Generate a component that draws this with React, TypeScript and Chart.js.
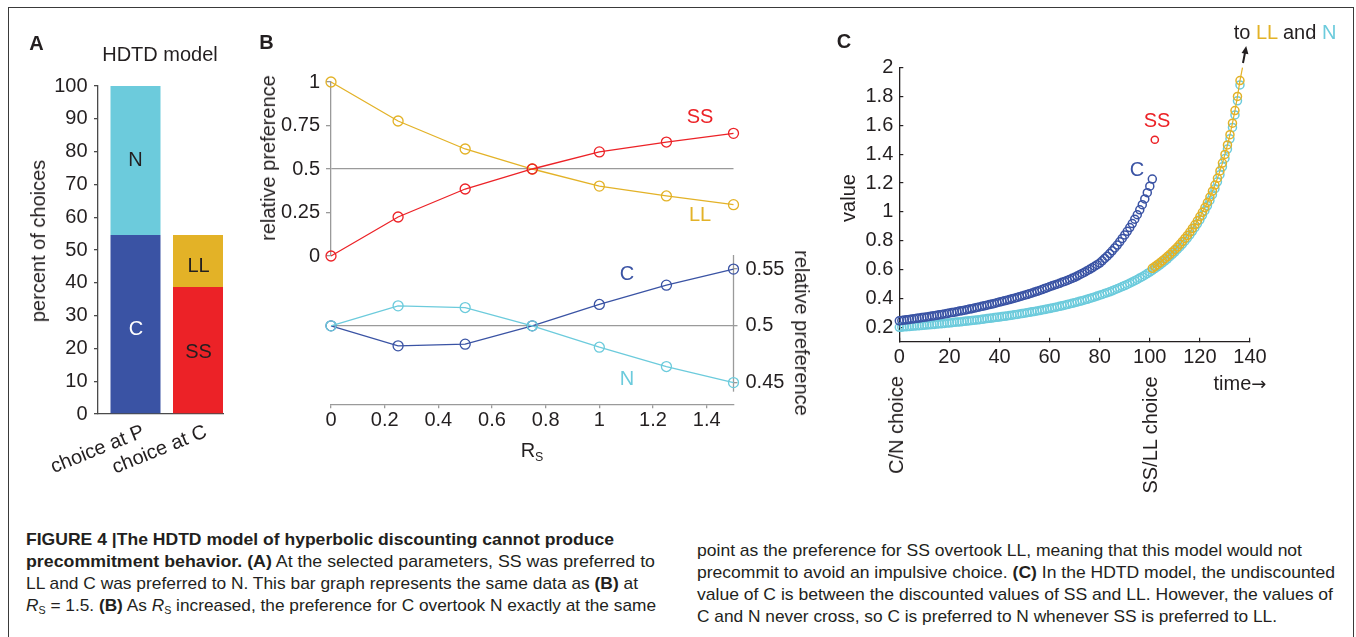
import React, { useEffect, useLayoutEffect, useRef } from "react";
import { Chart, registerables } from "chart.js";

Chart.register(...registerables);

const FONT = "'Liberation Sans', Arial, Helvetica, sans-serif";
const INK = "#231f20";
const GRAY = "#9a9a9a";
const AXA = "#4a4a4a";
const BLUE = "#3a53a4";
const CYAN = "#6ccbdc";
const GOLD = "#e3b227";
const RED = "#ec2227";

Chart.defaults.font.family = FONT;
Chart.defaults.color = INK;

// ---------- Panel A data ----------
const barCategories = ["choice at P", "choice at C"];
const barPositions = [0.6, 1.6];
const shareC = [54.6, 0];
const shareN = [45.4, 0];
const shareSS = [0, 38.7];
const shareLL = [0, 15.9];
const percentTicks = [0, 10, 20, 30, 40, 50, 60, 70, 80, 90, 100];

// ---------- Panel B data ----------
const rsValues = [0, 0.25, 0.5, 0.75, 1, 1.25, 1.5];
const prefSS = [0, 0.224, 0.385, 0.5, 0.598, 0.655, 0.705];
const prefLL = [1, 0.776, 0.615, 0.5, 0.402, 0.345, 0.295];
const prefC = [0.5, 0.4824, 0.4839, 0.5, 0.5188, 0.5358, 0.5499];
const prefN = [0.5, 0.5176, 0.5161, 0.5, 0.4812, 0.4642, 0.4501];
const rsTicks = [0, 0.2, 0.4, 0.6, 0.8, 1, 1.2, 1.4];
const rsTickLabels = ["0", "0.2", "0.4", "0.6", "0.8", "1", "1.2", "1.4"];
const topPrefTicks = [0, 0.25, 0.5, 0.75, 1];
const topPrefLabels = ["0", "0.25", "0.5", "0.75", "1"];
const lowPrefTicks = [0.45, 0.5, 0.55];
const lowPrefLabels = ["0.45", "0.5", "0.55"];

// ---------- Panel C data ----------
const timeStartC = 0;
const valueC = [
  0.245, 0.247, 0.25, 0.252, 0.254, 0.257, 0.259, 0.262, 0.264, 0.267,
  0.27, 0.272, 0.275, 0.278, 0.28, 0.283, 0.286, 0.289, 0.292, 0.295,
  0.299, 0.302, 0.305, 0.308, 0.312, 0.315, 0.318, 0.322, 0.326, 0.329,
  0.333, 0.337, 0.341, 0.345, 0.349, 0.353, 0.357, 0.361, 0.365, 0.37,
  0.375, 0.379, 0.383, 0.388, 0.392, 0.397, 0.402, 0.407, 0.412, 0.417,
  0.422, 0.427, 0.433, 0.438, 0.444, 0.449, 0.455, 0.461, 0.468, 0.474,
  0.481, 0.487, 0.493, 0.499, 0.505, 0.512, 0.518, 0.525, 0.532, 0.539,
  0.546, 0.555, 0.564, 0.573, 0.582, 0.592, 0.602, 0.612, 0.623, 0.634,
  0.645, 0.661, 0.677, 0.693, 0.711, 0.73, 0.75, 0.77, 0.792, 0.816,
  0.84, 0.865, 0.891, 0.919, 0.949, 0.98, 1.014, 1.05, 1.09, 1.133,
  1.178, 1.227,
];
const timeStartN = 0;
const valueN = [
  0.2, 0.201, 0.203, 0.204, 0.205, 0.207, 0.208, 0.21, 0.211, 0.213,
  0.214, 0.216, 0.217, 0.219, 0.22, 0.222, 0.224, 0.225, 0.227, 0.229,
  0.23, 0.232, 0.234, 0.236, 0.237, 0.239, 0.241, 0.243, 0.245, 0.247,
  0.249, 0.251, 0.253, 0.255, 0.258, 0.26, 0.262, 0.264, 0.267, 0.269,
  0.271, 0.274, 0.276, 0.279, 0.281, 0.284, 0.287, 0.289, 0.292, 0.295,
  0.298, 0.301, 0.304, 0.307, 0.31, 0.313, 0.316, 0.32, 0.323, 0.327,
  0.33, 0.334, 0.337, 0.341, 0.345, 0.349, 0.353, 0.357, 0.362, 0.366,
  0.37, 0.375, 0.38, 0.384, 0.389, 0.394, 0.4, 0.405, 0.41, 0.416,
  0.422, 0.428, 0.434, 0.44, 0.446, 0.453, 0.46, 0.467, 0.474, 0.482,
  0.489, 0.497, 0.506, 0.514, 0.523, 0.532, 0.542, 0.551, 0.561, 0.572,
  0.583, 0.595, 0.606, 0.619, 0.631, 0.645, 0.659, 0.673, 0.689, 0.705,
  0.721, 0.739, 0.757, 0.776, 0.797, 0.818, 0.841, 0.865, 0.89, 0.917,
  0.945, 0.976, 1.008, 1.042, 1.079, 1.119, 1.161, 1.208, 1.258, 1.312,
  1.37, 1.435, 1.506, 1.585, 1.672, 1.77, 1.88,
];
const timeStartLL = 101;
const valueLL = [
  0.609, 0.621, 0.634, 0.647, 0.661, 0.675, 0.69, 0.705, 0.722, 0.739,
  0.756, 0.775, 0.795, 0.816, 0.837, 0.86, 0.885, 0.91, 0.938, 0.967,
  0.997, 1.03, 1.065, 1.103, 1.143, 1.186, 1.233, 1.284, 1.338, 1.398,
  1.464, 1.535, 1.615, 1.702, 1.8, 1.91, 2.0,
];
const timeSS = [102];
const valueSS = [1.5];
const timeTicks = [0, 20, 40, 60, 80, 100, 120, 140];
const valueTicks = [0.2, 0.4, 0.6, 0.8, 1, 1.2, 1.4, 1.6, 1.8, 2];
const valueTickLabels = ["0.2", "0.4", "0.6", "0.8", "1", "1.2", "1.4", "1.6", "1.8", "2"];

const toPoints = (start: number, vals: number[]) => vals.map((v, i) => ({ x: start + i, y: v }));

const setTicks = (vals: number[]) => (s: any) => {
  s.ticks = vals.map((v) => ({ value: v }));
};
const fixW = (w: number) => (s: any) => {
  s.width = w;
  s.paddingTop = 0;
  s.paddingBottom = 0;
  s.paddingLeft = 0;
  s.paddingRight = 0;
};
const fixH = (h: number) => (s: any) => {
  s.height = h;
  s.paddingTop = 0;
  s.paddingBottom = 0;
  s.paddingLeft = 0;
  s.paddingRight = 0;
};

function ChartBox({ left, top, width, height, make }: any) {
  const ref = useRef<HTMLCanvasElement>(null);
  useEffect(() => {
    const chart = new Chart(ref.current as HTMLCanvasElement, make());
    return () => chart.destroy();
  }, []);
  return (
    <canvas
      ref={ref}
      width={width}
      height={height}
      style={{ position: "absolute", left, top, width, height }}
    />
  );
}

const baseOpts = {
  responsive: false,
  animation: false as const,
  devicePixelRatio: 1,
  events: [] as any[],
  plugins: { legend: { display: false }, tooltip: { enabled: false } },
};

// ---------- Panel A chart ----------
const barDs = (label: string, x: number, y: number, color: string) => ({
  label,
  data: [{ x, y }],
  backgroundColor: color,
  borderWidth: 0,
  grouped: false,
  stack: "all",
  barPercentage: 0.8,
  categoryPercentage: 1,
});

const makeA = () => ({
  type: "bar",
  data: {
    datasets: [
      barDs("C", barPositions[0], shareC[0], BLUE),
      barDs("N", barPositions[0], shareN[0], CYAN),
      barDs("SS", barPositions[1], shareSS[1], RED),
      barDs("LL", barPositions[1], shareLL[1], GOLD),
    ],
  },
  options: {
    ...baseOpts,
    layout: { padding: { left: 0, top: 86, right: 27, bottom: 0 } },
    scales: {
      x: {
        type: "linear",
        stacked: true,
        offset: false,
        min: 0,
        max: 2,
        afterBuildTicks: setTicks(barPositions),
        afterFit: fixH(66),
        grid: { display: false, drawTicks: false, offset: false },
        border: { display: true, color: AXA, width: 1.3 },
        ticks: {
          autoSkip: false,
          minRotation: 22,
          maxRotation: 22,
          padding: 6,
          labelOffset: 8,
          font: { size: 20 },
          color: INK,
          callback: (_v: any, i: number) => barCategories[i],
        },
      },
      y: {
        stacked: true,
        min: 0,
        max: 100,
        afterBuildTicks: setTicks(percentTicks),
        afterFit: fixW(98),
        grid: { drawOnChartArea: false, tickLength: 4, color: AXA, lineWidth: 1.3 },
        border: { color: AXA, width: 1.3 },
        ticks: { autoSkip: false, padding: 6.5, font: { size: 20 }, color: INK },
      },
    },
  },
});

// ---------- Panel B top chart ----------
const lineDs = (data: any[], color: string) => ({
  data,
  borderColor: color,
  borderWidth: 1.3,
  pointRadius: 5,
  pointBorderWidth: 1.3,
  pointBorderColor: color,
  pointBackgroundColor: "rgba(0,0,0,0)",
  fill: false,
  tension: 0,
  clip: false,
});

const makeBTop = () => ({
  type: "line",
  data: {
    datasets: [
      lineDs(rsValues.map((x, i) => ({ x, y: prefSS[i] })), RED),
      lineDs(rsValues.map((x, i) => ({ x, y: prefLL[i] })), GOLD),
    ],
  },
  options: {
    ...baseOpts,
    layout: { padding: { left: 0, top: 82, right: 26.5, bottom: 14 } },
    scales: {
      x: { type: "linear", min: 0, max: 1.5, display: false },
      y: {
        min: 0,
        max: 1,
        afterBuildTicks: setTicks(topPrefTicks),
        afterFit: fixW(91),
        grid: {
          color: (c: any) => (c.tick && c.tick.value === 0.5 ? GRAY : "rgba(0,0,0,0)"),
          tickColor: GRAY,
          tickLength: 5,
          lineWidth: 1.3,
        },
        border: { color: GRAY, width: 1.3 },
        ticks: {
          autoSkip: false,
          padding: 6,
          font: { size: 20 },
          color: INK,
          callback: (_v: any, i: number) => topPrefLabels[i],
        },
      },
    },
  },
});

// ---------- Panel B bottom chart ----------
const RIGHT_AXIS_TOP = 0.5623;
const RIGHT_AXIS_BOTTOM = 0.4421;
const rightAxisLine = {
  id: "rightAxisLine",
  beforeDatasetsDraw(chart: any) {
    const y = chart.scales.y;
    const ctx = chart.ctx;
    const x = chart.chartArea.right;
    ctx.save();
    ctx.strokeStyle = GRAY;
    ctx.lineWidth = 1.3;
    ctx.beginPath();
    ctx.moveTo(x, y.getPixelForValue(RIGHT_AXIS_TOP));
    ctx.lineTo(x, y.getPixelForValue(RIGHT_AXIS_BOTTOM));
    ctx.stroke();
    ctx.restore();
  },
};

const makeBBottom = () => ({
  type: "line",
  data: {
    datasets: [
      lineDs(rsValues.map((x, i) => ({ x, y: prefN[i] })), CYAN),
      lineDs(rsValues.map((x, i) => ({ x, y: prefC[i] })), BLUE),
    ],
  },
  plugins: [rightAxisLine],
  options: {
    ...baseOpts,
    layout: { padding: { left: 91, top: 15, right: 0, bottom: 0 } },
    scales: {
      x: {
        type: "linear",
        min: 0,
        max: 1.5,
        afterBuildTicks: setTicks(rsTicks),
        afterFit: fixH(75.7),
        grid: { drawOnChartArea: false, tickLength: 4, color: GRAY, lineWidth: 1.3 },
        border: { color: GRAY, width: 1.3 },
        ticks: {
          autoSkip: false,
          maxRotation: 0,
          padding: 0.5,
          font: { size: 20 },
          color: INK,
          callback: (_v: any, i: number) => rsTickLabels[i],
        },
      },
      y: {
        position: "right",
        min: 0.431,
        max: RIGHT_AXIS_TOP,
        afterBuildTicks: setTicks(lowPrefTicks),
        afterFit: fixW(106.5),
        grid: {
          color: (c: any) => (c.tick && c.tick.value === 0.5 ? GRAY : "rgba(0,0,0,0)"),
          tickColor: GRAY,
          tickLength: 4,
          lineWidth: 1.3,
        },
        border: { display: false },
        ticks: {
          autoSkip: false,
          padding: 8,
          font: { size: 20 },
          color: INK,
          callback: (_v: any, i: number) => lowPrefLabels[i],
        },
      },
    },
  },
});

// ---------- Panel C chart ----------
const dotDs = (data: any[], color: string, showLine: boolean, radius: any = 4.2) => ({
  data,
  showLine,
  borderColor: color,
  borderWidth: 1.2,
  pointRadius: radius,
  pointBorderWidth: 1.5,
  pointBorderColor: color,
  pointBackgroundColor: "rgba(0,0,0,0)",
  fill: false,
  tension: 0,
  clip: false,
});

const makeC = () => {
  const llPts = toPoints(timeStartLL, valueLL);
  return {
    type: "line",
    data: {
      datasets: [
        dotDs(timeSS.map((t, i) => ({ x: t, y: valueSS[i] })), RED, false, 3.6),
        dotDs(llPts, GOLD, true, (c: any) => (c.dataIndex === llPts.length - 1 ? 0 : 4)),
        dotDs(toPoints(timeStartC, valueC), BLUE, false, 4),
        dotDs(toPoints(timeStartN, valueN), CYAN, false, 4),
      ],
    },
    options: {
      ...baseOpts,
      layout: { padding: { left: 0, top: 27.6, right: 106, bottom: 0 } },
      scales: {
        x: {
          type: "linear",
          min: 0,
          max: 140,
          afterBuildTicks: setTicks(timeTicks),
          afterFit: fixH(38.3),
          grid: { drawOnChartArea: false, tickLength: -4, color: INK, lineWidth: 1.2 },
          border: { color: INK, width: 1.3 },
          ticks: { autoSkip: false, maxRotation: 0, padding: 8, font: { size: 20 }, color: INK },
        },
        y: {
          min: 0.1,
          max: 2,
          afterBuildTicks: setTicks(valueTicks),
          afterFit: fixW(79.3),
          grid: { drawOnChartArea: false, tickLength: -4, color: INK, lineWidth: 1.2 },
          border: { color: INK, width: 1.3 },
          ticks: {
            autoSkip: false,
            padding: 10,
            font: { size: 20 },
            color: INK,
            callback: (_v: any, i: number) => valueTickLabels[i],
          },
        },
      },
    },
  };
};

// ---------- overlay text ----------
function T({ x, y, children, size = 20, color = INK, weight = 400, rotate = 0, style = {} }: any) {
  return (
    <div
      style={{
        position: "absolute",
        left: x,
        top: y,
        transform: `translate(-50%, -50%) rotate(${rotate}deg)`,
        whiteSpace: "nowrap",
        fontFamily: FONT,
        fontSize: size,
        fontWeight: weight,
        color,
        lineHeight: 1,
        ...style,
      }}
    >
      {children}
    </div>
  );
}

function CapLine({ x, y, w, children }: any) {
  const ref = useRef<HTMLDivElement>(null);
  useLayoutEffect(() => {
    const el = ref.current as HTMLDivElement;
    const fit = () => {
      el.style.transform = "translateY(-50%)";
      const nat = el.getBoundingClientRect().width;
      el.style.transform = `translateY(-50%) scaleX(${w / nat})`;
    };
    fit();
    if ((document as any).fonts && (document as any).fonts.ready) {
      (document as any).fonts.ready.then(fit);
    }
  }, [w]);
  return (
    <div
      ref={ref}
      style={{
        position: "absolute",
        left: x,
        top: y,
        transformOrigin: "0 50%",
        whiteSpace: "nowrap",
        fontFamily: FONT,
        fontSize: 17,
        color: INK,
        lineHeight: 1,
      }}
    >
      {children}
    </div>
  );
}

const Sub = ({ children }: any) => (
  <span style={{ fontSize: "0.62em", position: "relative", top: "0.3em" }}>{children}</span>
);
const B = ({ children }: any) => <span style={{ fontWeight: 700 }}>{children}</span>;

export default function App() {
  return (
    <div
      style={{
        position: "absolute",
        left: 0,
        top: 0,
        width: 1356,
        height: 637,
        overflow: "hidden",
        background: "#fff",
      }}
    >
      <div
        style={{
          position: "absolute",
          left: 7.5,
          top: 6.5,
          width: 1346.5,
          height: 700,
          boxSizing: "border-box",
          border: "1.6px solid #3a3a3a",
        }}
      />
      <ChartBox left={0} top={0} width={250} height={480} make={makeA} />
      <ChartBox left={240} top={0} width={520} height={270} make={makeBTop} />
      <ChartBox left={240} top={240} width={600} height={240} make={makeBBottom} />
      <ChartBox left={820} top={40} width={536} height={340} make={makeC} />

      {/* Panel A text */}
      <T x={36.5} y={42.5} weight={700}>A</T>
      <T x={160} y={54}>HDTD model</T>
      <T x={37.5} y={241} rotate={-90}>percent of choices</T>
      <T x={135.5} y={159}>N</T>
      <T x={136} y={328} color="#ffffff">C</T>
      <T x={198.5} y={265}>LL</T>
      <T x={198.5} y={351}>SS</T>

      {/* Panel B text */}
      <T x={266.5} y={41.5} weight={700}>B</T>
      <T x={268} y={158} rotate={-90}>relative preference</T>
      <T x={700} y={116} color={RED}>SS</T>
      <T x={700} y={214} color={GOLD}>LL</T>
      <T x={627} y={273} color={BLUE}>C</T>
      <T x={627} y={378} color={CYAN}>N</T>
      <T x={532} y={450}>
        R<Sub>S</Sub>
      </T>
      <T x={801.5} y={332.5} rotate={90}>relative preference</T>

      {/* Panel C text */}
      <T x={844} y={41} weight={700}>C</T>
      <T x={848} y={198} rotate={-90}>value</T>
      <T x={1240} y={383}>
        time<span style={{ fontFamily: "'DejaVu Sans', sans-serif", fontSize: 18 }}>→</span>
      </T>
      <T x={896} y={425} rotate={-90}>C/N choice</T>
      <T x={1150} y={435} rotate={-90}>SS/LL choice</T>
      <T x={1137} y={169} color={BLUE}>C</T>
      <T x={1157} y={120} color={RED}>SS</T>
      <T x={1285} y={32}>
        to <span style={{ color: GOLD }}>LL</span> and <span style={{ color: CYAN }}>N</span>
      </T>
      <svg
        width={16}
        height={22}
        viewBox="0 0 16 22"
        style={{ position: "absolute", left: 1236, top: 44 }}
      >
        <line x1={7} y1={19} x2={9.3} y2={7} stroke={INK} strokeWidth={2} />
        <polygon points="10.2,2 5.6,9 12.4,10.2" fill={INK} />
      </svg>

      {/* Caption */}
      <CapLine x={26} y={539} w={588}>
        <B>FIGURE 4 |The HDTD model of hyperbolic discounting cannot produce</B>
      </CapLine>
      <CapLine x={26} y={561} w={629}>
        <B>precommitment behavior. (A)</B> At the selected parameters, SS was preferred to
      </CapLine>
      <CapLine x={26} y={583} w={612}>
        LL and C was preferred to N. This bar graph represents the same data as <B>(B)</B> at
      </CapLine>
      <CapLine x={26} y={605} w={630}>
        <i>R</i>
        <Sub>S</Sub> = 1.5. <B>(B)</B> As <i>R</i>
        <Sub>S</Sub> increased, the preference for C overtook N exactly at the same
      </CapLine>
      <CapLine x={697} y={550} w={605}>
        point as the preference for SS overtook LL, meaning that this model would not
      </CapLine>
      <CapLine x={697} y={572} w={638}>
        precommit to avoid an impulsive choice. <B>(C)</B> In the HDTD model, the undiscounted
      </CapLine>
      <CapLine x={697} y={594} w={636}>
        value of C is between the discounted values of SS and LL. However, the values of
      </CapLine>
      <CapLine x={697} y={616} w={580}>
        C and N never cross, so C is preferred to N whenever SS is preferred to LL.
      </CapLine>
    </div>
  );
}
